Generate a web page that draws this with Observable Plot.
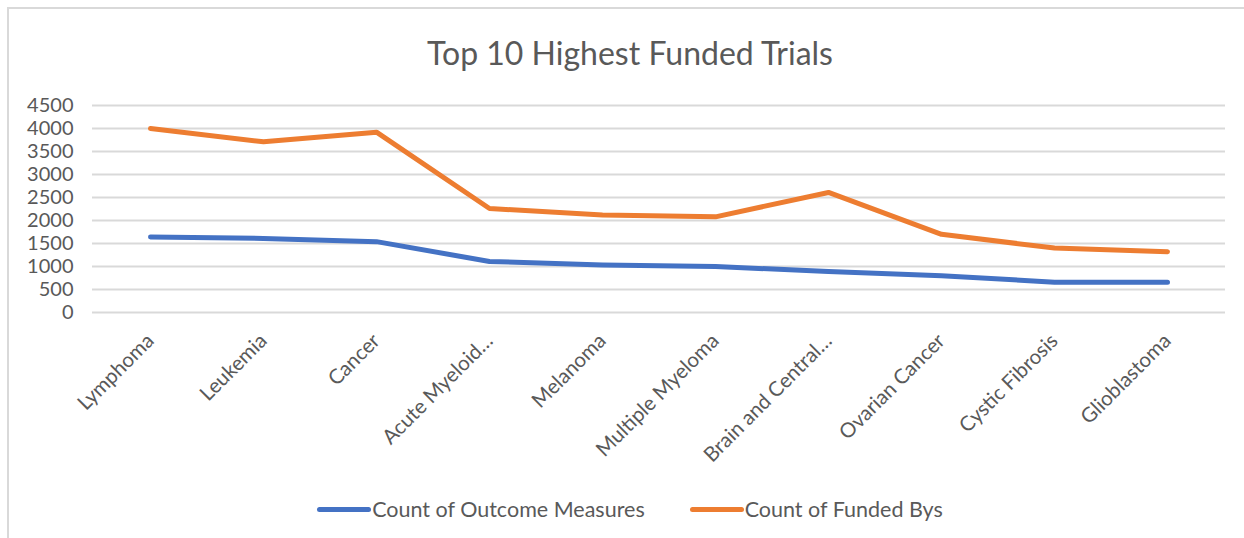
<!DOCTYPE html>
<html>
<head>
<meta charset="utf-8">
<script src="https://cdn.jsdelivr.net/npm/d3@7"></script>
<script src="https://cdn.jsdelivr.net/npm/@observablehq/plot@0.6"></script>
<style>
  html, body { margin: 0; padding: 0; background: #fff; }
  #wrap { position: relative; width: 1244px; height: 538px; overflow: hidden; font-family: Lato, "Open Sans", sans-serif; }
  #frame { position: absolute; left: 7px; top: 7px; width: 1300px; height: 600px; border-left: 2px solid #d9d9d9; border-top: 2px solid #d9d9d9; }
  #title { position: absolute; left: 8px; width: 1244px; top: 32px; text-align: center; font-size: 32px; color: #595959; line-height: 42px; }
  #chart { position: absolute; left: 0; top: 90px; }
  #legend { position: absolute; left: 8px; width: 1244px; top: 495px; display: flex; justify-content: center; gap: 45px; font-size: 21.5px; color: #595959; line-height: 28px; }
  .item { display: flex; align-items: center; }
  .sw { width: 54px; height: 5px; border-radius: 3px; margin-right: 1px; }
</style>
</head>
<body>
<div id="wrap">
  <div id="frame"></div>
  <div id="title">Top 10 Highest Funded Trials</div>
  <div id="chart"></div>
  <div id="legend"></div>
</div>
<script>
const categories = ["Lymphoma", "Leukemia", "Cancer", "Acute Myeloid Leukemia", "Melanoma", "Multiple Myeloma", "Brain and Central Nervous System Tumors", "Ovarian Cancer", "Cystic Fibrosis", "Glioblastoma"];
const tickLabels = ["Lymphoma", "Leukemia", "Cancer", "Acute Myeloid…", "Melanoma", "Multiple Myeloma", "Brain and Central…", "Ovarian Cancer", "Cystic Fibrosis", "Glioblastoma"];
const outcomeMeasures = [1640, 1610, 1540, 1110, 1030, 1000, 890, 800, 660, 660];
const fundedBys = [4000, 3710, 3920, 2260, 2120, 2080, 2610, 1700, 1400, 1320];
const yTicks = [0, 500, 1000, 1500, 2000, 2500, 3000, 3500, 4000, 4500];
const seriesNames = ["Count of Outcome Measures", "Count of Funded Bys"];
const seriesColors = ["#4472C4", "#ED7D31"];

const rows = [];
categories.forEach((c, i) => {
  rows.push({category: c, series: seriesNames[0], value: outcomeMeasures[i]});
  rows.push({category: c, series: seriesNames[1], value: fundedBys[i]});
});
const labelOf = new Map(categories.map((c, i) => [c, tickLabels[i]]));

const chart = Plot.plot({
  width: 1244,
  height: 390,
  marginTop: 15,
  marginBottom: 168,
  marginLeft: 92,
  marginRight: 19,
  style: {fontFamily: "Lato, 'Open Sans', sans-serif", fontSize: "20px", color: "#595959", background: "transparent"},
  x: {type: "point", domain: categories, padding: 0.5},
  y: {domain: [0, 4500]},
  color: {domain: seriesNames, range: seriesColors},
  marks: [
    Plot.ruleY(yTicks, {stroke: "#d9d9d9", strokeWidth: 2}),
    Plot.axisY({ticks: yTicks, tickSize: 0, tickPadding: 19, label: null, tickFormat: d => String(d), fill: "#595959", fontSize: 20}),
    Plot.axisX({tickSize: 0, tickPadding: 25, tickRotate: -45, label: null, tickFormat: d => labelOf.get(d), fill: "#595959", fontSize: 20.5}),
    Plot.line(rows, {x: "category", y: "value", z: "series", stroke: "series", strokeWidth: 5, strokeLinecap: "round", strokeLinejoin: "round"})
  ]
});
document.getElementById("chart").appendChild(chart);

const legend = document.getElementById("legend");
seriesNames.forEach((name, i) => {
  const item = document.createElement("div");
  item.className = "item";
  const sw = document.createElement("div");
  sw.className = "sw";
  sw.style.background = seriesColors[i];
  const t = document.createElement("span");
  t.textContent = name;
  item.appendChild(sw);
  item.appendChild(t);
  legend.appendChild(item);
});
</script>
</body>
</html>
